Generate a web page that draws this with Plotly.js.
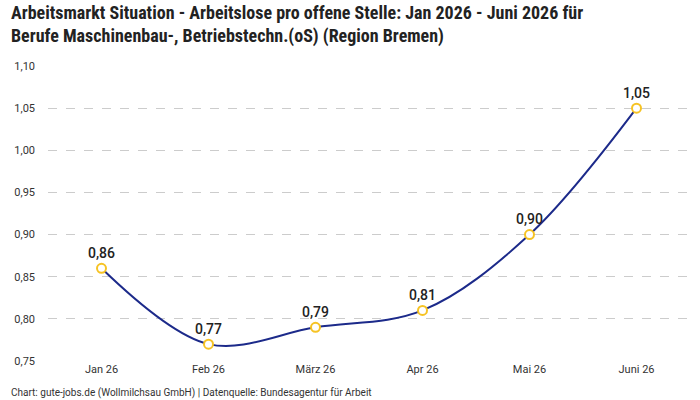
<!DOCTYPE html>
<html>
<head>
<meta charset="utf-8">
<script src="https://cdn.plot.ly/plotly-3.0.1.min.js"></script>
<style>
  html, body { margin: 0; padding: 0; background: #fff; }
  #chart { width: 700px; height: 400px; }
</style>
</head>
<body>
<div id="chart"></div>
<script>
// Monatskategorien und Werte (Arbeitslose pro offene Stelle)
const months = ["Jan 26", "Feb 26", "März 26", "Apr 26", "Mai 26", "Juni 26"];
const ratio = [0.86, 0.77, 0.79, 0.81, 0.90, 1.05];
const yTicks = [0.75, 0.80, 0.85, 0.90, 0.95, 1.00, 1.05, 1.10];
const titleLines = [
  "Arbeitsmarkt Situation - Arbeitslose pro offene Stelle: Jan 2026 - Juni 2026 für",
  "Berufe Maschinenbau-, Betriebstechn.(oS) (Region Bremen)"
];
const footer = "Chart: gute-jobs.de (Wollmilchsau GmbH) | Datenquelle: Bundesagentur für Arbeit";

const fmt = v => v.toFixed(2).replace(".", ",");

const M = { l: 48, r: 10, t: 66, b: 39 };
const W = 700, H = 400;
const plotH = H - M.t - M.b;
const plotW = W - M.l - M.r;
// pixel offsets -> paper coordinates
const px = x => (x - M.l) / plotW;
const py = y => (H - M.b - y) / plotH;

const trace = {
  x: months,
  y: ratio,
  type: "scatter",
  mode: "lines+markers+text",
  line: { shape: "spline", smoothing: 1, color: "#1c2a8a", width: 2 },
  marker: { size: 9, color: "#ffffff", line: { color: "#f6c324", width: 2 } },
  text: ratio.map(fmt),
  textposition: "top center",
  textfont: { family: "Roboto, 'Noto Sans', sans-serif", size: 14, color: "#222", weight: 500 },
  cliponaxis: false,
  hoverinfo: "skip"
};

const titleFont = { family: "'Liberation Sans Narrow', 'Roboto Condensed', Roboto, sans-serif", size: 18, color: "#222", weight: 700 };

const layout = {
  width: W,
  height: H,
  paper_bgcolor: "#ffffff",
  plot_bgcolor: "#ffffff",
  separators: ",.",
  margin: M,
  font: { family: "Roboto, 'Noto Sans', sans-serif", size: 11, color: "#333" },
  xaxis: {
    type: "category",
    range: [-0.5, 5.5],
    showgrid: false,
    zeroline: false,
    showline: false,
    ticks: "",
    tickfont: { size: 11, color: "#333" },
    fixedrange: true
  },
  yaxis: {
    range: [0.75, 1.10],
    tickvals: yTicks,
    ticktext: yTicks.map(fmt),
    showgrid: true,
    gridcolor: "#cccccc",
    griddash: "dash",
    gridwidth: 1,
    zeroline: false,
    showline: false,
    ticks: "",
    ticklabelstandoff: 12,
    tickfont: { size: 11, color: "#333" },
    fixedrange: true
  },
  showlegend: false,
  annotations: [
    {
      text: titleLines.join("<br>"), xref: "paper", yref: "paper",
      x: px(9), y: py(24), xanchor: "left", yanchor: "middle", align: "left",
      showarrow: false, font: titleFont
    },
    {
      text: footer, xref: "paper", yref: "paper",
      x: px(9), y: py(393), xanchor: "left", yanchor: "middle",
      showarrow: false, font: { size: 10, color: "#333" }
    }
  ]
};

Plotly.newPlot("chart", [trace], layout, { displayModeBar: false, staticPlot: true });
</script>
</body>
</html>
